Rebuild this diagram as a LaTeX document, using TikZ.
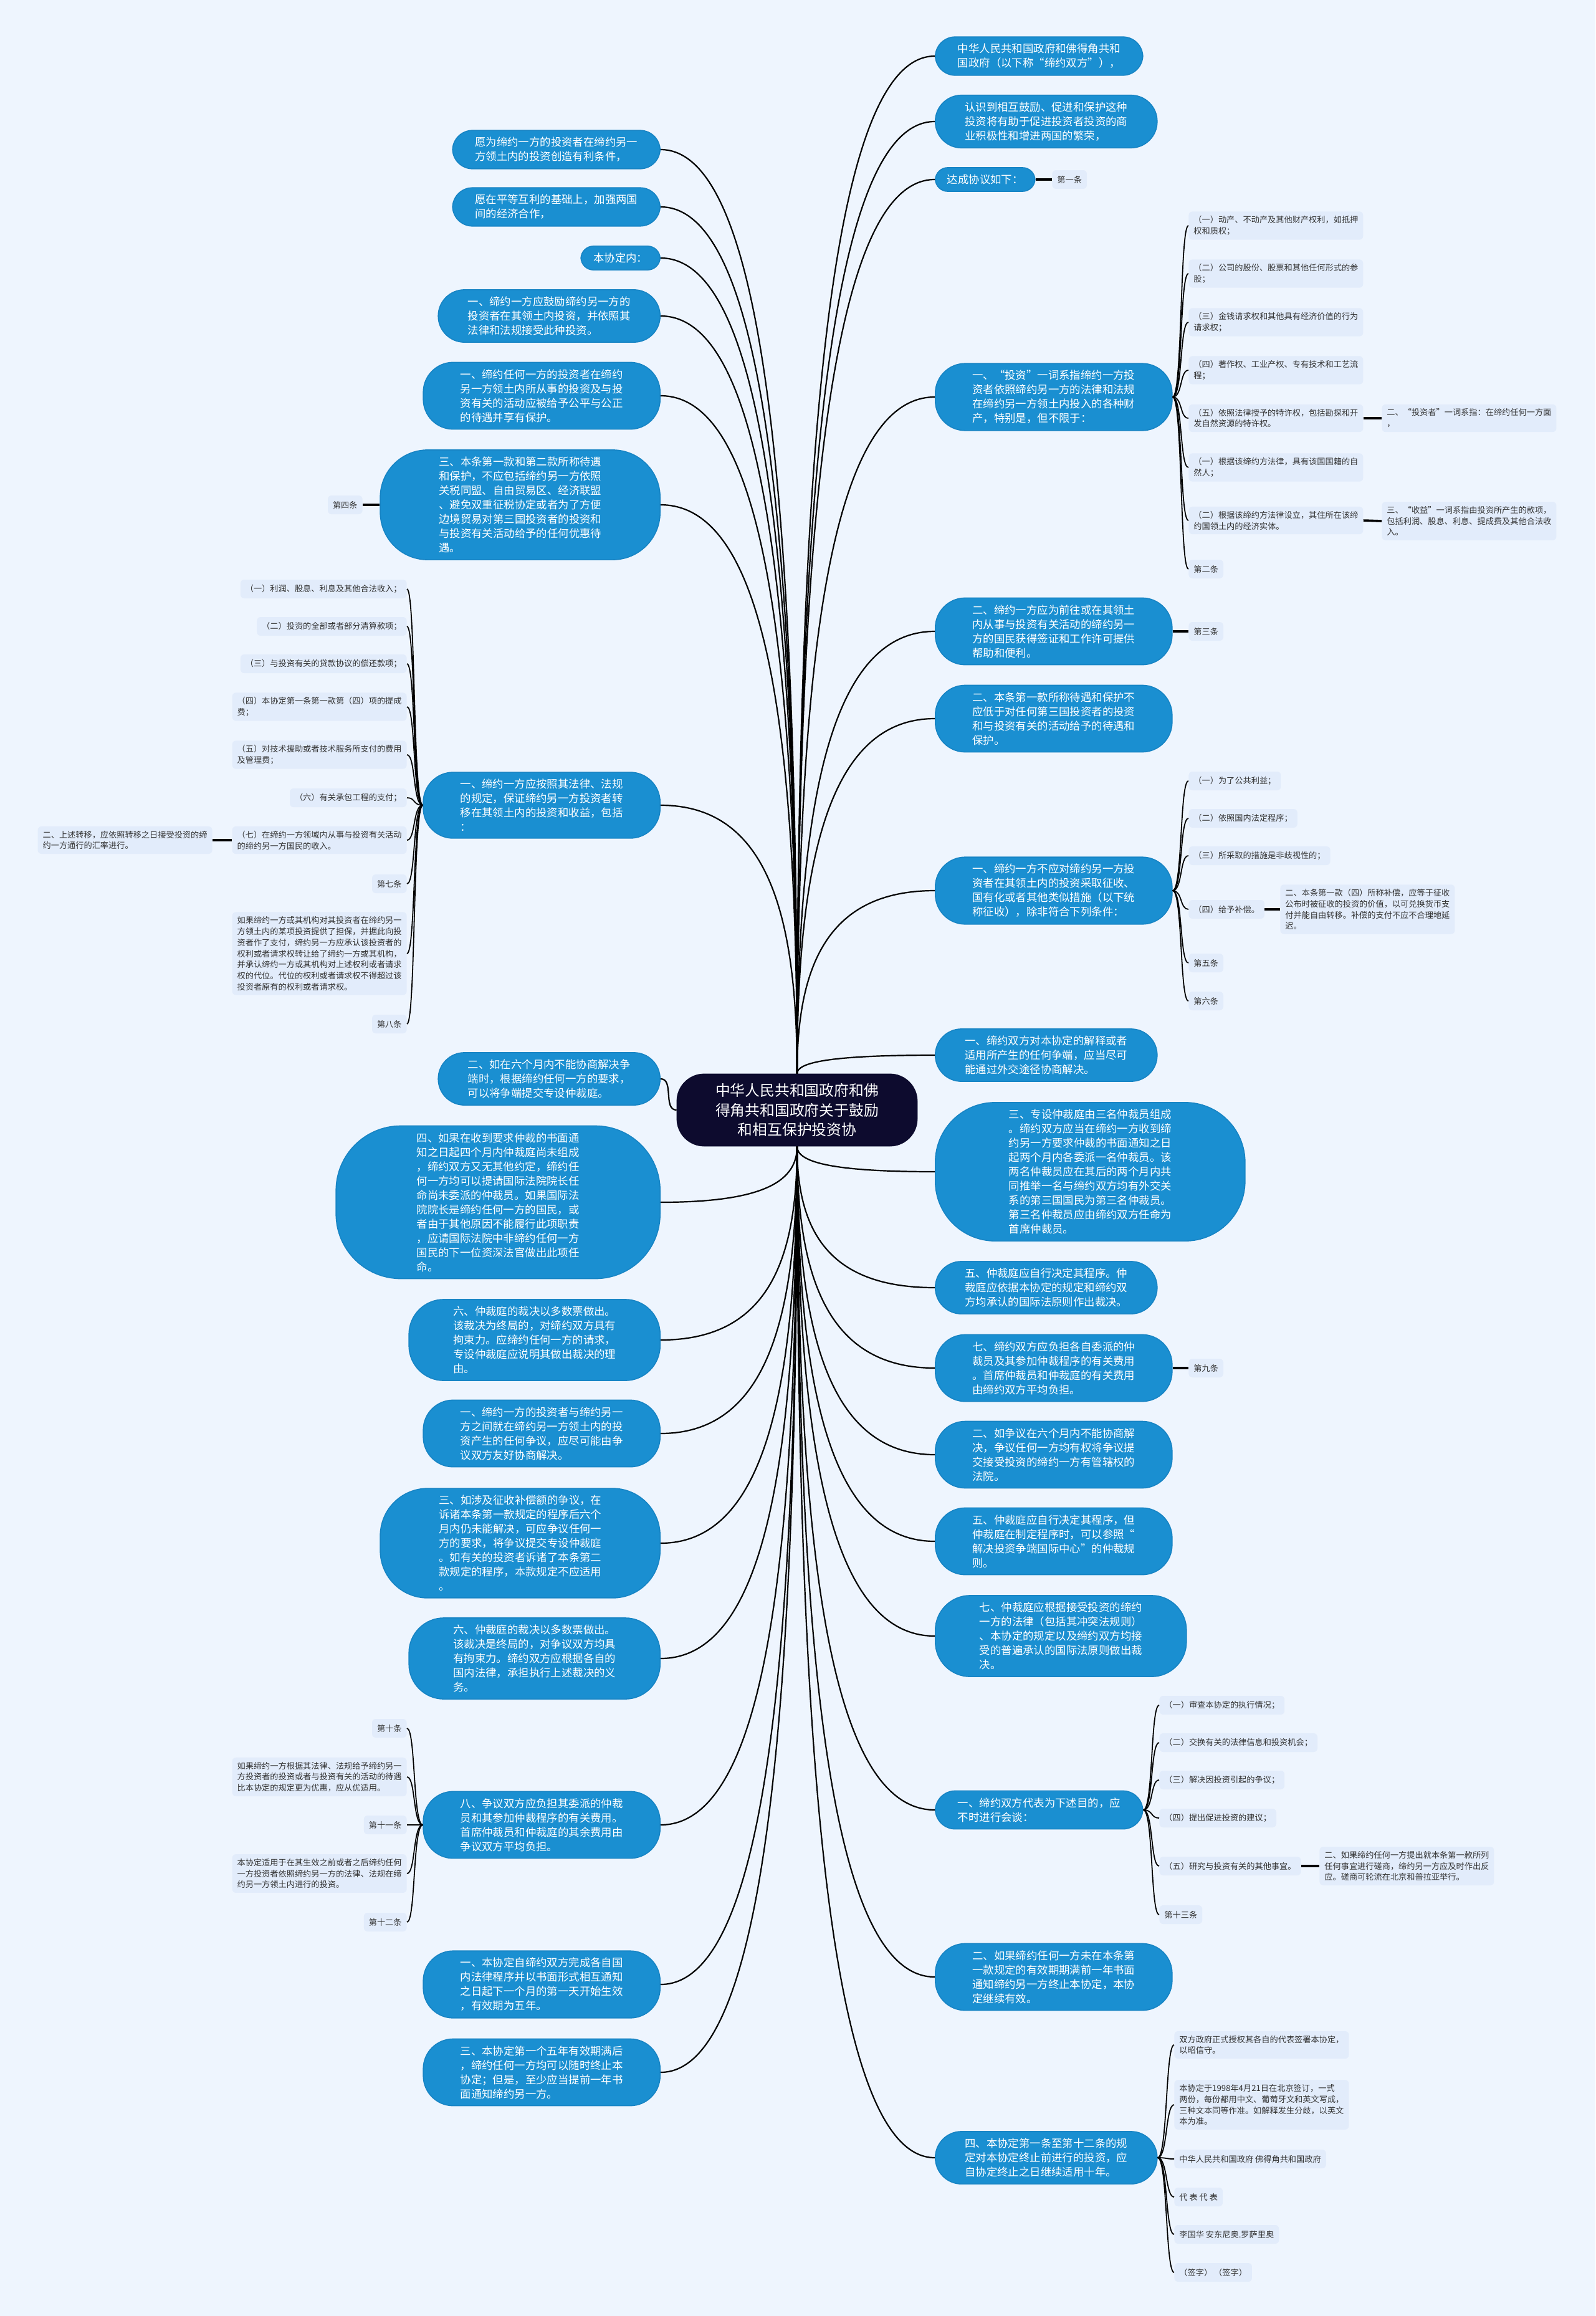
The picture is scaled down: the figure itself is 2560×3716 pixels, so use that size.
\documentclass[tikz,border=0pt]{standalone}
\usepackage{fontspec}
\setmainfont{Noto Sans CJK SC}
\usetikzlibrary{calc}
\definecolor{bgblue}{HTML}{EEF5FE}
\definecolor{bubblue}{HTML}{1A8FD1}
\definecolor{bubedge}{HTML}{1784C4}
\definecolor{leafblue}{HTML}{E2ECFB}
\definecolor{rootnavy}{HTML}{0D0B2E}
\definecolor{txtgray}{HTML}{333333}

\begin{document}
\begin{tikzpicture}[x=0.5pt, y=-0.5pt,
  bub/.style={fill=bubblue, draw=bubedge, line width=0.8pt, text=white, align=left,
    inner xsep=6pt, inner ysep=5.5pt, font=\fontsize{8.7}{11.5}\selectfont, rounded corners=#1},
  bub/.default=16pt,
  leaf/.style={fill=leafblue, text=txtgray, rounded corners=3pt, align=left, inner xsep=4pt,
    inner ysep=3.5pt, minimum height=15pt, font=\fontsize{6.6}{8.9}\selectfont},
  rootbox/.style={fill=rootnavy, draw=rootnavy, text=white, align=center, rounded corners=22pt,
    minimum width=193pt, minimum height=58pt, font=\fontsize{11.9}{15.8}\selectfont},
  link/.style={draw=black, line width=1.1pt},
  twig/.style={draw=black, line width=0.9pt},
  stub/.style={draw=black, line width=1.8pt}
]
\fill[bgblue] (0,0) rectangle (2560,3716);
\useasboundingbox (0,0) rectangle (2560,3716);

% centre
\node[rootbox] (root) at (1279,1781) {中华人民共和国政府和佛\\得角共和国政府关于鼓励\\和相互保护投资协};

% left side
\node[bub=16pt, minimum width=166.5pt, anchor=east] (L1) at (1060,240) {愿为缔约一方的投资者在缔约另一\\方领土内的投资创造有利条件，};
\node[bub=16pt, minimum width=166.5pt, anchor=east] (L2) at (1060,332) {愿在平等互利的基础上，加强两国\\间的经济合作，};
\node[bub=10pt, minimum width=63.5pt, anchor=east] (L3) at (1060,414) {本协定内：};
\node[bub=21pt, minimum width=178pt, anchor=east] (L4) at (1060,507) {一、缔约一方应鼓励缔约另一方的\\投资者在其领土内投资，并依照其\\法律和法规接受此种投资。};
\node[bub=24pt, minimum width=190pt, anchor=east] (L5) at (1060,635) {一、缔约任何一方的投资者在缔约\\另一方领土内所从事的投资及与投\\资有关的活动应被给予公平与公正\\的待遇并享有保护。};
\node[bub=38pt, minimum width=224.5pt, anchor=east] (L6) at (1060,810) {三、本条第一款和第二款所称待遇\\和保护，不应包括缔约另一方依照\\关税同盟、自由贸易区、经济联盟\\、避免双重征税协定或者为了方便\\边境贸易对第三国投资者的投资和\\与投资有关活动给予的任何优惠待\\遇。};
\node[bub=24pt, minimum width=190pt, anchor=east] (L7) at (1060,1292) {一、缔约一方应按照其法律、法规\\的规定，保证缔约另一方投资者转\\移在其领土内的投资和收益，包括\\：};
\node[bub=21pt, minimum width=178pt, anchor=east] (L8) at (1060,1731) {二、如在六个月内不能协商解决争\\端时，根据缔约任何一方的要求，\\可以将争端提交专设仲裁庭。};
\node[bub=52pt, minimum width=260pt, anchor=east] (L9) at (1060,1929) {四、如果在收到要求仲裁的书面通\\知之日起四个月内仲裁庭尚未组成\\，缔约双方又无其他约定，缔约任\\何一方均可以提请国际法院院长任\\命尚未委派的仲裁员。如果国际法\\院院长是缔约任何一方的国民，或\\者由于其他原因不能履行此项职责\\，应请国际法院中非缔约任何一方\\国民的下一位资深法官做出此项任\\命。};
\node[bub=28pt, minimum width=201.5pt, anchor=east] (L10) at (1060,2150) {六、仲裁庭的裁决以多数票做出。\\该裁决为终局的，对缔约双方具有\\拘束力。应缔约任何一方的请求，\\专设仲裁庭应说明其做出裁决的理\\由。};
\node[bub=24pt, minimum width=190pt, anchor=east] (L11) at (1060,2300) {一、缔约一方的投资者与缔约另一\\方之间就在缔约另一方领土内的投\\资产生的任何争议，应尽可能由争\\议双方友好协商解决。};
\node[bub=38pt, minimum width=224.5pt, anchor=east] (L12) at (1060,2476) {三、如涉及征收补偿额的争议，在\\诉诸本条第一款规定的程序后六个\\月内仍未能解决，可应争议任何一\\方的要求，将争议提交专设仲裁庭\\。如有关的投资者诉诸了本条第二\\款规定的程序，本款规定不应适用\\。};
\node[bub=28pt, minimum width=201.5pt, anchor=east] (L13) at (1060,2661) {六、仲裁庭的裁决以多数票做出。\\该裁决是终局的，对争议双方均具\\有拘束力。缔约双方应根据各自的\\国内法律，承担执行上述裁决的义\\务。};
\node[bub=24pt, minimum width=190pt, anchor=east] (L14) at (1060,2928) {八、争议双方应负担其委派的仲裁\\员和其参加仲裁程序的有关费用。\\首席仲裁员和仲裁庭的其余费用由\\争议双方平均负担。};
\node[bub=24pt, minimum width=190pt, anchor=east] (L15) at (1060,3184) {一、本协定自缔约双方完成各自国\\内法律程序并以书面形式相互通知\\之日起下一个月的第一天开始生效\\，有效期为五年。};
\node[bub=24pt, minimum width=190pt, anchor=east] (L16) at (1060,3325) {三、本协定第一个五年有效期满后\\，缔约任何一方均可以随时终止本\\协定；但是，至少应当提前一年书\\面通知缔约另一方。};

% left leaves
\node[leaf, anchor=east] (k4) at (582,810) {第四条};
\node[leaf, anchor=east] (s1) at (653,945) {（一）利润、股息、利息及其他合法收入；};
\node[leaf, anchor=east] (s2) at (653,1005) {（二）投资的全部或者部分清算款项；};
\node[leaf, anchor=east] (s3) at (653,1065) {（三）与投资有关的贷款协议的偿还款项；};
\node[leaf, anchor=east] (s4) at (653,1134) {（四）本协定第一条第一款第（四）项的提成\\费；};
\node[leaf, anchor=east] (s5) at (653,1211) {（五）对技术援助或者技术服务所支付的费用\\及管理费；};
\node[leaf, anchor=east] (s6) at (653,1280) {（六）有关承包工程的支付；};
\node[leaf, anchor=east] (s7) at (653,1348) {（七）在缔约一方领域内从事与投资有关活动\\的缔约另一方国民的收入。};
\node[leaf, anchor=east] (sx) at (341,1348) {二、上述转移，应依照转移之日接受投资的缔\\约一方通行的汇率进行。};
\node[leaf, anchor=east] (s8) at (653,1418) {第七条};
\node[leaf, anchor=east] (s9) at (653,1530) {如果缔约一方或其机构对其投资者在缔约另一\\方领土内的某项投资提供了担保，并据此向投\\资者作了支付，缔约另一方应承认该投资者的\\权利或者请求权转让给了缔约一方或其机构，\\并承认缔约一方或其机构对上述权利或者请求\\权的代位。代位的权利或者请求权不得超过该\\投资者原有的权利或者请求权。};
\node[leaf, anchor=east] (s10) at (653,1643) {第八条};
\node[leaf, anchor=east] (t1) at (653,2773) {第十条};
\node[leaf, anchor=east] (t2) at (653,2851) {如果缔约一方根据其法律、法规给予缔约另一\\方投资者的投资或者与投资有关的活动的待遇\\比本协定的规定更为优惠，应从优适用。};
\node[leaf, anchor=east] (t3) at (653,2928) {第十一条};
\node[leaf, anchor=east] (t4) at (653,3006) {本协定适用于在其生效之前或者之后缔约任何\\一方投资者依照缔约另一方的法律、法规在缔\\约另一方领土内进行的投资。};
\node[leaf, anchor=east] (t5) at (653,3084) {第十二条};

% right side
\node[bub=16pt, minimum width=166.5pt, anchor=west] (R1) at (1500,90) {中华人民共和国政府和佛得角共和\\国政府（以下称“缔约双方”），};
\node[bub=21pt, minimum width=178pt, anchor=west] (R2) at (1500,195) {认识到相互鼓励、促进和保护这种\\投资将有助于促进投资者投资的商\\业积极性和增进两国的繁荣，};
\node[bub=10pt, minimum width=80pt, anchor=west] (R3) at (1500,288) {达成协议如下：};
\node[bub=24pt, minimum width=190pt, anchor=west] (R4) at (1500,637) {一、“投资”一词系指缔约一方投\\资者依照缔约另一方的法律和法规\\在缔约另一方领土内投入的各种财\\产，特别是，但不限于：};
\node[bub=24pt, minimum width=190pt, anchor=west] (R5) at (1500,1013) {二、缔约一方应为前往或在其领土\\内从事与投资有关活动的缔约另一\\方的国民获得签证和工作许可提供\\帮助和便利。};
\node[bub=24pt, minimum width=190pt, anchor=west] (R6) at (1500,1153) {二、本条第一款所称待遇和保护不\\应低于对任何第三国投资者的投资\\和与投资有关的活动给予的待遇和\\保护。};
\node[bub=24pt, minimum width=190pt, anchor=west] (R7) at (1500,1429) {一、缔约一方不应对缔约另一方投\\资者在其领土内的投资采取征收、\\国有化或者其他类似措施（以下统\\称征收），除非符合下列条件：};
\node[bub=21pt, minimum width=178pt, anchor=west] (R8) at (1500,1693) {一、缔约双方对本协定的解释或者\\适用所产生的任何争端，应当尽可\\能通过外交途径协商解决。};
\node[bub=48pt, minimum width=248.5pt, anchor=west] (R9) at (1500,1880) {三、专设仲裁庭由三名仲裁员组成\\。缔约双方应当在缔约一方收到缔\\约另一方要求仲裁的书面通知之日\\起两个月内各委派一名仲裁员。该\\两名仲裁员应在其后的两个月内共\\同推举一名与缔约双方均有外交关\\系的第三国国民为第三名仲裁员。\\第三名仲裁员应由缔约双方任命为\\首席仲裁员。};
\node[bub=21pt, minimum width=178pt, anchor=west] (R10) at (1500,2066) {五、仲裁庭应自行决定其程序。仲\\裁庭应依据本协定的规定和缔约双\\方均承认的国际法原则作出裁决。};
\node[bub=24pt, minimum width=190pt, anchor=west] (R11) at (1500,2195) {七、缔约双方应负担各自委派的仲\\裁员及其参加仲裁程序的有关费用\\。首席仲裁员和仲裁庭的有关费用\\由缔约双方平均负担。};
\node[bub=24pt, minimum width=190pt, anchor=west] (R12) at (1500,2334) {二、如争议在六个月内不能协商解\\决，争议任何一方均有权将争议提\\交接受投资的缔约一方有管辖权的\\法院。};
\node[bub=24pt, minimum width=190pt, anchor=west] (R13) at (1500,2473) {五、仲裁庭应自行决定其程序，但\\仲裁庭在制定程序时，可以参照“\\解决投资争端国际中心”的仲裁规\\则。};
\node[bub=28pt, minimum width=201.5pt, anchor=west] (R14) at (1500,2625) {七、仲裁庭应根据接受投资的缔约\\一方的法律（包括其冲突法规则）\\、本协定的规定以及缔约双方均接\\受的普遍承认的国际法原则做出裁\\决。};
\node[bub=16pt, minimum width=166.5pt, anchor=west] (R15) at (1500,2904) {一、缔约双方代表为下述目的，应\\不时进行会谈：};
\node[bub=24pt, minimum width=190pt, anchor=west] (R16) at (1500,3172) {二、如果缔约任何一方未在本条第\\一款规定的有效期期满前一年书面\\通知缔约另一方终止本协定，本协\\定继续有效。};
\node[bub=21pt, minimum width=178pt, anchor=west] (R17) at (1500,3462) {四、本协定第一条至第十二条的规\\定对本协定终止前进行的投资，应\\自协定终止之日继续适用十年。};

% right leaves
\node[leaf, anchor=west] (k1) at (1688,288) {第一条};
\node[leaf, anchor=west] (c1) at (1907,362) {（一）动产、不动产及其他财产权利，如抵押\\权和质权；};
\node[leaf, anchor=west] (c2) at (1907,439) {（二）公司的股份、股票和其他任何形式的参\\股；};
\node[leaf, anchor=west] (c3) at (1907,517) {（三）金钱请求权和其他具有经济价值的行为\\请求权；};
\node[leaf, anchor=west] (c4) at (1907,594) {（四）著作权、工业产权、专有技术和工艺流\\程；};
\node[leaf, anchor=west] (c5) at (1907,671) {（五）依照法律授予的特许权，包括勘探和开\\发自然资源的特许权。};
\node[leaf, anchor=west] (c5x) at (2217,671) {二、“投资者”一词系指：在缔约任何一方面\\，};
\node[leaf, anchor=west] (c6) at (1907,750) {（一）根据该缔约方法律，具有该国国籍的自\\然人；};
\node[leaf, anchor=west] (c7) at (1907,835) {（二）根据该缔约方法律设立，其住所在该缔\\约国领土内的经济实体。};
\node[leaf, anchor=west] (c7x) at (2217,836) {三、“收益”一词系指由投资所产生的款项，\\包括利润、股息、利息、提成费及其他合法收\\入。};
\node[leaf, anchor=west] (c8) at (1907,913) {第二条};
\node[leaf, anchor=west] (k3) at (1907,1013) {第三条};
\node[leaf, anchor=west] (d1) at (1907,1253) {（一）为了公共利益；};
\node[leaf, anchor=west] (d2) at (1907,1313) {（二）依照国内法定程序；};
\node[leaf, anchor=west] (d3) at (1907,1373) {（三）所采取的措施是非歧视性的；};
\node[leaf, anchor=west] (d4) at (1907,1459) {（四）给予补偿。};
\node[leaf, anchor=west] (d4x) at (2054,1459) {二、本条第一款（四）所称补偿，应等于征收\\公布时被征收的投资的价值，以可兑换货币支\\付并能自由转移。补偿的支付不应不合理地延\\迟。};
\node[leaf, anchor=west] (d5) at (1907,1545) {第五条};
\node[leaf, anchor=west] (d6) at (1907,1606) {第六条};
\node[leaf, anchor=west] (k9) at (1907,2195) {第九条};
\node[leaf, anchor=west] (e1) at (1860,2736) {（一）审查本协定的执行情况；};
\node[leaf, anchor=west] (e2) at (1860,2796) {（二）交换有关的法律信息和投资机会；};
\node[leaf, anchor=west] (e3) at (1860,2856) {（三）解决因投资引起的争议；};
\node[leaf, anchor=west] (e4) at (1860,2917) {（四）提出促进投资的建议；};
\node[leaf, anchor=west] (e5) at (1860,2994) {（五）研究与投资有关的其他事宜。};
\node[leaf, anchor=west] (e5x) at (2117,2994) {二、如果缔约任何一方提出就本条第一款所列\\任何事宜进行磋商，缔约另一方应及时作出反\\应。磋商可轮流在北京和普拉亚举行。};
\node[leaf, anchor=west] (e6) at (1860,3072) {第十三条};
\node[leaf, anchor=west] (f1) at (1884,3281) {双方政府正式授权其各自的代表签署本协定，\\以昭信守。};
\node[leaf, anchor=west] (f2) at (1884,3377) {本协定于1998年4月21日在北京签订，一式\\两份，每份都用中文、葡萄牙文和英文写成，\\三种文本同等作准。如解释发生分歧，以英文\\本为准。};
\node[leaf, anchor=west] (f3) at (1884,3464) {中华人民共和国政府 佛得角共和国政府};
\node[leaf, anchor=west] (f4) at (1884,3525) {代 表 代 表};
\node[leaf, anchor=west] (f5) at (1884,3585) {李国华 安东尼奥.罗萨里奥};
\node[leaf, anchor=west] (f6) at (1884,3646) {（签字）\ （签字）};

% links from the centre
\foreach \n in {L1,L2,L3,L4,L5,L6,L7}
  \draw[link] (\n.east) .. controls +(170,0) and ($(root.north)!0.6!(root.north |- \n.east)$) .. (root.north);
\foreach \n in {L9,L10,L11,L12,L13,L14,L15,L16}
  \draw[link] (\n.east) .. controls +(170,0) and ($(root.south)!0.6!(root.south |- \n.east)$) .. (root.south);
\foreach \n in {R1,R2,R3,R4,R5,R6,R7,R8}
  \draw[link] (\n.west) .. controls +(-170,0) and ($(root.north)!0.6!(root.north |- \n.west)$) .. (root.north);
\foreach \n in {R9,R10,R11,R12,R13,R14,R15,R16,R17}
  \draw[link] (\n.west) .. controls +(-170,0) and ($(root.south)!0.6!(root.south |- \n.west)$) .. (root.south);
\draw[link] (L8.east) to[out=0, in=180] (root.west);

% branches
\foreach \n in {s1,s2,s3,s4,s5,s6,s7,s8,s9,s10}
  \draw[twig] (L7.west) .. controls +(-16,0) and +(14,0) .. (\n.east);
\foreach \n in {t1,t2,t3,t4,t5}
  \draw[twig] (L14.west) .. controls +(-16,0) and +(14,0) .. (\n.east);
\foreach \n in {c1,c2,c3,c4,c5,c6,c7,c8}
  \draw[twig] (R4.east) .. controls +(16,0) and +(-14,0) .. (\n.west);
\foreach \n in {d1,d2,d3,d4,d5,d6}
  \draw[twig] (R7.east) .. controls +(16,0) and +(-14,0) .. (\n.west);
\foreach \n in {e1,e2,e3,e4,e5,e6}
  \draw[twig] (R15.east) .. controls +(16,0) and +(-14,0) .. (\n.west);
\foreach \n in {f1,f2,f3,f4,f5,f6}
  \draw[twig] (R17.east) .. controls +(16,0) and +(-14,0) .. (\n.west);

% single stubs
\draw[stub] (L6.west) -- (k4.east);
\draw[stub] (s7.west) -- (sx.east);
\draw[stub] (R3.east) -- (k1.west);
\draw[stub] (c5.east) -- (c5x.west);
\draw[stub] (c7.east) -- (c7x.west);
\draw[stub] (R5.east) -- (k3.west);
\draw[stub] (d4.east) -- (d4x.west);
\draw[stub] (R11.east) -- (k9.west);
\draw[stub] (e5.east) -- (e5x.west);
\end{tikzpicture}
\end{document}
